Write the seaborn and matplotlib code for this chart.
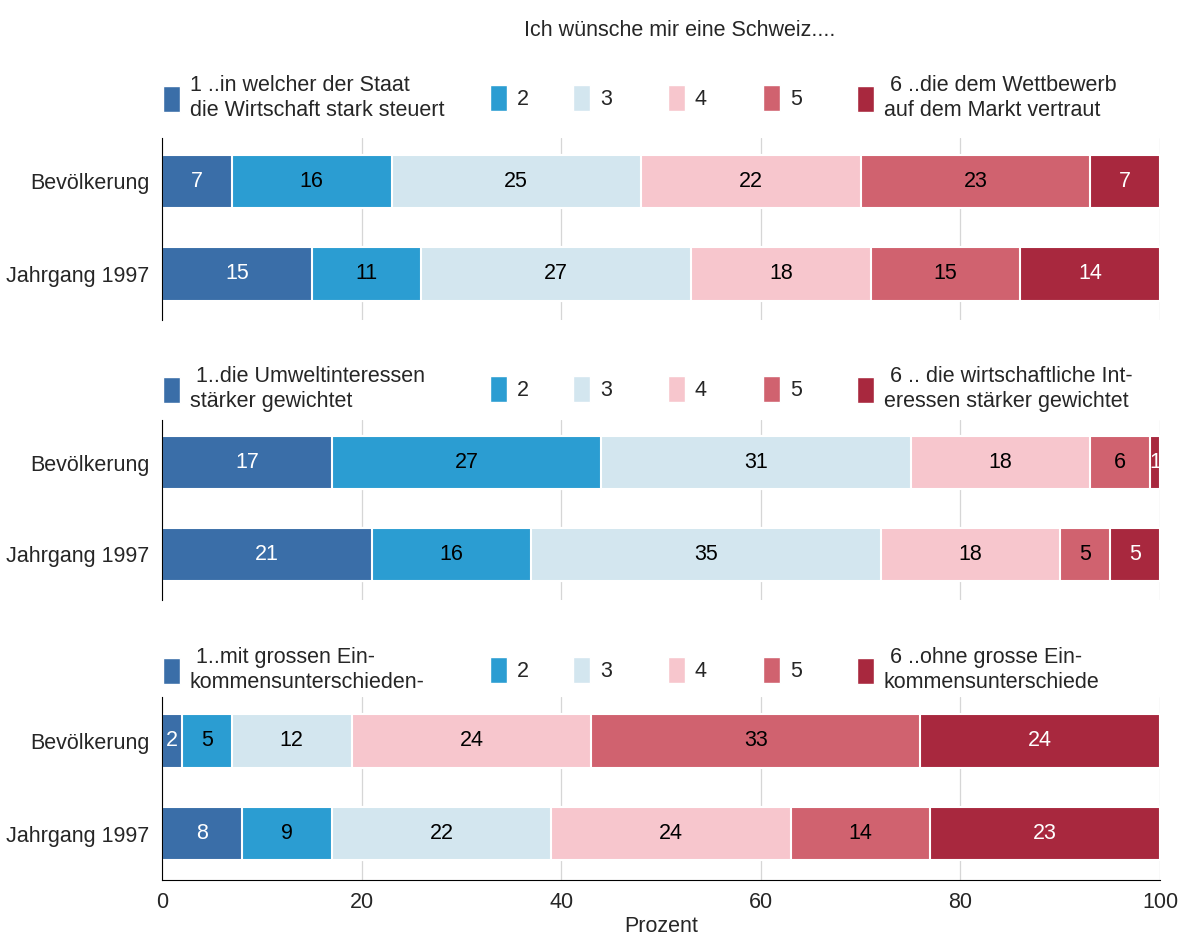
import numpy as np
import pandas as pd
import seaborn as sns
import matplotlib.pyplot as plt
from matplotlib.patches import Patch

# Daten (Prozent)
gruppen = ["Bevölkerung", "Jahrgang 1997"]

wirtschaft_bev = [7, 16, 25, 22, 23, 7]
wirtschaft_jg = [15, 11, 27, 18, 15, 14]

umwelt_bev = [17, 27, 31, 18, 6, 1]
umwelt_jg = [21, 16, 35, 18, 5, 5]

einkommen_bev = [2, 5, 12, 24, 33, 24]
einkommen_jg = [8, 9, 22, 24, 14, 23]

labels_wirtschaft = ["1 ..in welcher der Staat\ndie Wirtschaft stark steuert", "2", "3", "4", "5",
                     " 6 ..die dem Wettbewerb\nauf dem Markt vertraut"]
labels_umwelt = [" 1..die Umweltinteressen\nstärker gewichtet", "2", "3", "4", "5",
                 " 6 .. die wirtschaftliche Int-\neressen stärker gewichtet"]
labels_einkommen = [" 1..mit grossen Ein-\nkommensunterschieden-", "2", "3", "4", "5",
                    " 6 ..ohne grosse Ein-\nkommensunterschiede"]

farben = ["#3a6ea8", "#2b9dd2", "#d3e6ef", "#f7c6cd", "#d0626f", "#a8283e"]
textfarben = ["white", "black", "black", "black", "black", "white"]

FS = 15.5

sns.set_style("white")
plt.rcParams['font.family'] = ['Liberation Sans', 'DejaVu Sans']

fig = plt.figure(figsize=(11.81, 9.39), dpi=100)
W, H = 1181, 939

# Legendenpositionen (px, links der Kaestchen)
leg_x = [163, 490, 573, 668, 763, 857]

# (top px, bottom px, legend center y px) fuer jedes Panel
panels = [
    (wirtschaft_bev, wirtschaft_jg, labels_wirtschaft, 138, 320, 98),
    (umwelt_bev, umwelt_jg, labels_umwelt, 420, 600, 389),
    (einkommen_bev, einkommen_jg, labels_einkommen, 697, 880, 670),
]

for p, (bev, jg, leg_labels, top, bottom, leg_y) in enumerate(panels):
    ax = fig.add_axes([162 / W, 1 - bottom / H, 998 / W, (bottom - top) / H])
    werte = np.array([bev, jg])
    cum = werte.cumsum(axis=1)

    # gestapelte Balken: von aussen nach innen zeichnen
    for k in range(5, -1, -1):
        df = pd.DataFrame({"Gruppe": gruppen, "Prozent": cum[:, k]})
        sns.barplot(data=df, x="Prozent", y="Gruppe", orient="h", color=farben[k],
                    saturation=1, width=0.58, edgecolor="white", linewidth=1.5, ax=ax)

    # Werte in die Segmente schreiben
    for i in range(2):
        start = 0
        for k in range(6):
            v = werte[i, k]
            ax.text(start + v / 2, i, str(v), ha="center", va="center",
                    color=textfarben[k], fontsize=FS)
            start += v

    ax.set_xlim(0, 100)
    ax.set_ylim(1.5, -0.47)
    ax.set_xticks([0, 20, 40, 60, 80, 100])
    ax.set_axisbelow(True)
    ax.xaxis.grid(True, color="#d6d6d6", linewidth=0.9)
    ax.set_ylabel("")
    ax.tick_params(axis="y", length=0, labelsize=FS, pad=9)

    for s in ["top", "right"]:
        ax.spines[s].set_visible(False)
    ax.spines["left"].set_color("black")

    if p < 2:
        ax.spines["bottom"].set_visible(False)
        ax.tick_params(axis="x", length=0, labelbottom=False)
        ax.set_xlabel("")
    else:
        ax.spines["bottom"].set_color("black")
        ax.tick_params(axis="x", length=5, labelsize=FS, direction="out", color="black")
        ax.set_xlabel("Prozent", fontsize=FS, labelpad=2)

    # Legende: jeder Eintrag an fester Position
    for k in range(6):
        fig.legend([Patch(facecolor=farben[k])], [leg_labels[k]], loc="center left",
                   bbox_to_anchor=(leg_x[k] / W, 1 - leg_y / H), frameon=False, fontsize=FS,
                   handlelength=0.8, handleheight=1.5, handletextpad=0.45,
                   borderaxespad=0, borderpad=0, labelspacing=0.3)

fig.text(680 / W, 1 - 30 / H, "Ich wünsche mir eine Schweiz....", ha="center", va="center", fontsize=FS)

fig.savefig("out.png", dpi=100)
